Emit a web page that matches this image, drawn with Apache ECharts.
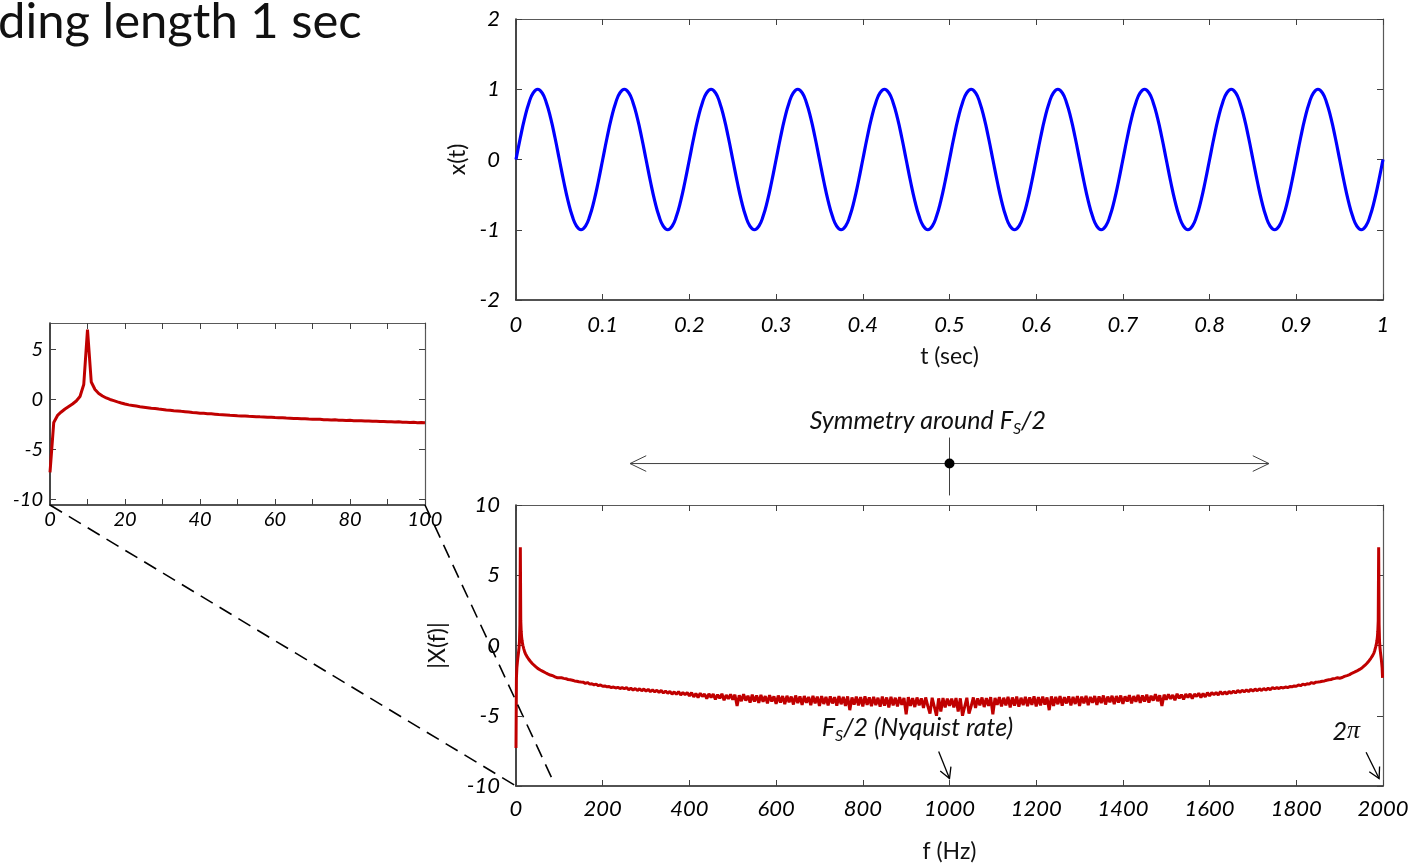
<!DOCTYPE html>
<html><head><meta charset="utf-8">
<script src="https://cdn.jsdelivr.net/npm/echarts@6/dist/echarts.min.js"></script>
<style>html,body{margin:0;padding:0;background:#fff;}#c{width:1416px;height:868px;}</style>
</head><body><div id="c"></div>
<script>
// ---- DATA ----
// x(t) sampled every 0.005 s, t = 0 .. 1
const signalStep = 0.005;
const signalValues = [
 0,0.309,0.588,0.809,0.951,1,0.951,0.809,0.588,0.309,0,-0.309,-0.588,-0.809,-0.951,-1,-0.951,-0.809,-0.588,-0.309,
 0,0.309,0.588,0.809,0.951,1,0.951,0.809,0.588,0.309,0,-0.309,-0.588,-0.809,-0.951,-1,-0.951,-0.809,-0.588,-0.309,
 0,0.309,0.588,0.809,0.951,1,0.951,0.809,0.588,0.309,0,-0.309,-0.588,-0.809,-0.951,-1,-0.951,-0.809,-0.588,-0.309,
 0,0.309,0.588,0.809,0.951,1,0.951,0.809,0.588,0.309,0,-0.309,-0.588,-0.809,-0.951,-1,-0.951,-0.809,-0.588,-0.309,
 0,0.309,0.588,0.809,0.951,1,0.951,0.809,0.588,0.309,0,-0.309,-0.588,-0.809,-0.951,-1,-0.951,-0.809,-0.588,-0.309,
 0,0.309,0.588,0.809,0.951,1,0.951,0.809,0.588,0.309,0,-0.309,-0.588,-0.809,-0.951,-1,-0.951,-0.809,-0.588,-0.309,
 0,0.309,0.588,0.809,0.951,1,0.951,0.809,0.588,0.309,0,-0.309,-0.588,-0.809,-0.951,-1,-0.951,-0.809,-0.588,-0.309,
 0,0.309,0.588,0.809,0.951,1,0.951,0.809,0.588,0.309,0,-0.309,-0.588,-0.809,-0.951,-1,-0.951,-0.809,-0.588,-0.309,
 0,0.309,0.588,0.809,0.951,1,0.951,0.809,0.588,0.309,0,-0.309,-0.588,-0.809,-0.951,-1,-0.951,-0.809,-0.588,-0.309,
 0,0.309,0.588,0.809,0.951,1,0.951,0.809,0.588,0.309,0,-0.309,-0.588,-0.809,-0.951,-1,-0.951,-0.809,-0.588,-0.309,
 0
];
// |X(f)| for f = 0 .. 100 Hz, 1 Hz steps (also the zoomed inset)
const spectrumLow = [
 -7.3,-2.3,-1.6,-1.25,-0.95,-0.7,-0.45,-0.15,0.3,1.5,
 7.0,1.75,1.0,0.6,0.35,0.15,0.0,-0.12,-0.24,-0.35,
 -0.45,-0.54,-0.6,-0.66,-0.72,-0.77,-0.82,-0.87,-0.91,-0.96,
 -1.0,-1.05,-1.08,-1.12,-1.15,-1.19,-1.22,-1.26,-1.3,-1.33,
 -1.37,-1.39,-1.42,-1.44,-1.47,-1.5,-1.52,-1.55,-1.58,-1.6,
 -1.63,-1.65,-1.66,-1.69,-1.7,-1.72,-1.74,-1.75,-1.78,-1.78,
 -1.81,-1.83,-1.84,-1.86,-1.87,-1.9,-1.9,-1.93,-1.94,-1.96,
 -1.97,-1.99,-1.98,-2.02,-2.02,-2.05,-2.04,-2.07,-2.07,-2.1,
 -2.09,-2.12,-2.13,-2.14,-2.16,-2.15,-2.19,-2.18,-2.21,-2.2,
 -2.23,-2.24,-2.26,-2.24,-2.28,-2.27,-2.3,-2.29,-2.32,-2.31,
 -2.33
];
// |X(f)| for f = 105 .. 1000 Hz, 5 Hz steps
const spectrumMidStart = 105, spectrumMidStep = 5;
const spectrumMid = [
 -2.30,-2.34,-2.36,-2.42,-2.44,-2.47,-2.52,-2.54,-2.58,-2.60,
 -2.61,-2.70,-2.64,-2.75,-2.72,-2.80,-2.75,-2.86,-2.81,-2.90,
 -2.88,-2.94,-2.92,-2.99,-2.96,-3.02,-2.98,-3.06,-3.00,-3.08,
 -3.00,-3.14,-3.04,-3.18,-3.06,-3.20,-3.08,-3.22,-3.10,-3.24,
 -3.12,-3.28,-3.16,-3.30,-3.18,-3.34,-3.20,-3.38,-3.24,-3.40,
 -3.26,-3.46,-3.30,-3.48,-3.28,-3.52,-3.34,-3.50,-3.36,-3.58,
 -3.36,-3.66,-3.42,-3.70,-3.40,-3.62,-3.46,-3.78,-3.44,-3.70,
 -3.46,-3.84,-3.50,-3.76,-3.44,-3.90,-3.52,-3.80,-3.48,-3.86,
 -3.50,-4.30,-3.54,-3.96,-3.46,-3.92,-3.58,-4.06,-3.50,-3.98,
 -3.56,-4.08,-3.52,-4.00,-3.60,-4.12,-3.54,-3.98,-3.62,-4.16,
 -3.56,-4.06,-3.60,-4.18,-3.58,-4.04,-3.64,-4.20,-3.56,-4.10,
 -3.62,-4.22,-3.60,-4.08,-3.66,-4.24,-3.58,-4.12,-3.64,-4.30,
 -3.60,-4.16,-3.66,-4.26,-3.62,-4.12,-3.68,-4.28,-3.60,-4.18,
 -3.66,-4.30,-3.62,-4.60,-3.70,-4.20,-3.64,-4.26,-3.68,-4.34,
 -3.62,-4.22,-3.70,-4.32,-3.66,-4.24,-3.72,-4.36,-3.64,-4.28,
 -3.70,-4.40,-3.66,-4.26,-3.72,-4.34,-3.68,-4.22,-3.74,-4.90,
 -3.68,-4.30,-3.74,-4.38,-3.70,-4.26,-3.76,-4.44,-3.70,-4.32,
 -4.85,-3.72,-4.36,-5.00,-3.76,-4.70,-3.74,-4.40,-3.78,-4.30
];
const samplingRate = 2000;   // Hz; spectrum mirrors around samplingRate/2
const insetYMin = -10.57, insetYMax = 7.66;
const insetYTicks = [-10, -5, 0, 5];

// ---- BUILD SERIES DATA ----
const signalData = signalValues.map((v, i) => [+(i * signalStep).toFixed(4), v]);
const half = [];
spectrumLow.forEach((v, f) => half.push([f, v]));
spectrumMid.forEach((v, j) => half.push([spectrumMidStart + j * spectrumMidStep, v]));
const fN = samplingRate / 2;
const mirrored = half.filter(p => p[0] > 0 && p[0] < fN).map(p => [samplingRate - p[0], p[1]]);
const spectrumData = half.concat(mirrored).sort((a, b) => a[0] - b[0]);
const insetData = spectrumLow.map((v, f) => [f, v]);

// ---- CHART ----
const FONT = 'Lato, "Open Sans", "DejaVu Sans", sans-serif';
const chart = echarts.init(document.getElementById('c'), null, {renderer: 'canvas'});
const plain = v => String(+(+v).toFixed(2));

function axis(gridIndex, position, min, max, extra, mirror, labelOpts) {
  const a = {
    type: 'value', gridIndex, position, min, max,
    splitLine: {show: false},
    axisLine: {show: true, onZero: false, lineStyle: {color: mirror ? '#595959' : '#1a1a1a', width: mirror ? 1.2 : 1.6}},
    axisTick: {show: true, inside: true, length: 6, lineStyle: {color: '#404040', width: 1}},
    axisLabel: Object.assign({show: !mirror, fontFamily: FONT, fontStyle: 'italic', fontSize: 22, color: '#000', formatter: plain}, labelOpts || {})
  };
  return Object.assign(a, extra || {});
}
const nameStyle = {fontFamily: FONT, fontSize: 23, color: '#111'};

const option = {
  animation: false,
  backgroundColor: '#fff',
  grid: [
    {left: 516, top: 19, width: 867, height: 281},
    {left: 516, top: 505, width: 867, height: 281},
    {left: 50, top: 323, width: 375, height: 182}
  ],
  xAxis: [
    axis(0, 'bottom', 0, 1, {interval: 0.1, name: 't (sec)', nameLocation: 'middle', nameGap: 45, nameTextStyle: nameStyle}, false, {margin: 14}),
    axis(0, 'top', 0, 1, {interval: 0.1}, true),
    axis(1, 'bottom', 0, 2000, {interval: 200, name: 'f (Hz)', nameLocation: 'middle', nameGap: 54, nameTextStyle: nameStyle}, false, {margin: 12}),
    axis(1, 'top', 0, 2000, {interval: 200}, true),
    axis(2, 'bottom', 0, 100, {interval: 10}, false, {margin: 5, fontSize: 20, formatter: v => (v % 20 === 0 ? String(v) : '')}),
    axis(2, 'top', 0, 100, {interval: 10}, true)
  ],
  yAxis: [
    axis(0, 'left', -2, 2, {interval: 1, name: 'x(t)', nameLocation: 'middle', nameGap: 46, nameTextStyle: nameStyle}, false, {margin: 16}),
    axis(0, 'right', -2, 2, {interval: 1}, true),
    axis(1, 'left', -10, 10, {interval: 5, name: '|X(f)|', nameLocation: 'middle', nameGap: 67, nameTextStyle: nameStyle}, false, {margin: 16}),
    axis(1, 'right', -10, 10, {interval: 5}, true),
    axis(2, 'left', insetYMin, insetYMax, {}, false, {margin: 7, fontSize: 20, customValues: insetYTicks}),
    axis(2, 'right', insetYMin, insetYMax, {}, true)
  ],
  series: [
    {type: 'line', xAxisIndex: 0, yAxisIndex: 0, data: signalData, showSymbol: false, smooth: 0.5,
     lineStyle: {color: '#0000ff', width: 3.2}, itemStyle: {color: '#0000ff'}},
    {type: 'line', xAxisIndex: 2, yAxisIndex: 2, data: spectrumData, showSymbol: false,
     lineStyle: {color: '#c00000', width: 3}, itemStyle: {color: '#c00000'}},
    {type: 'line', xAxisIndex: 4, yAxisIndex: 4, data: insetData, showSymbol: false,
     lineStyle: {color: '#c00000', width: 3}, itemStyle: {color: '#c00000'}}
  ]
};
option.yAxis[4].axisTick.customValues = insetYTicks;
option.yAxis[5].axisTick.customValues = insetYTicks;
chart.setOption(option);

// ---- ANNOTATIONS ----
const px = (g, p) => chart.convertToPixel({xAxisIndex: 2 * g, yAxisIndex: 2 * g}, p);
function head(tip, from, len, ang, color, w) {
  const dx = from[0] - tip[0], dy = from[1] - tip[1], L = Math.hypot(dx, dy);
  const ux = dx / L, uy = dy / L;
  const r = a => [tip[0] + len * (ux * Math.cos(a) - uy * Math.sin(a)), tip[1] + len * (ux * Math.sin(a) + uy * Math.cos(a))];
  return {type: 'polyline', z: 100, silent: true, shape: {points: [r(ang), tip, r(-ang)]}, style: {stroke: color, fill: null, lineWidth: w}};
}
function line(a, b, style) {
  return {type: 'line', z: 100, silent: true, shape: {x1: a[0], y1: a[1], x2: b[0], y2: b[1]}, style: Object.assign({stroke: '#000', lineWidth: 1.2}, style)};
}
const italic = {fontFamily: FONT, fontStyle: 'italic', fill: '#111', color: '#111'};
const g = [];
g.push({type: 'text', z: 100, x: -2, y: 22, style: {text: 'ding length 1 sec', fontFamily: FONT, fontSize: 49, fill: '#111', align: 'left', verticalAlign: 'middle'}});
g.push(line(px(2, [0, insetYMin]), px(1, [0, -10]), {lineDash: [14, 8], lineWidth: 1.6}));
g.push(line(px(2, [100, insetYMin]), px(1, [85, -9.6]), {lineDash: [14, 8], lineWidth: 1.6}));
const yS = 12.95;
const L0 = px(1, [263, yS]), R0 = px(1, [1737, yS]), C0 = px(1, [1000, yS]);
g.push(line(L0, R0, {stroke: '#404040', lineWidth: 1}));
g.push(head(L0, R0, 18, 0.45, '#404040', 1));
g.push(head(R0, L0, 18, 0.45, '#404040', 1));
g.push(line(px(1, [1000, 14.8]), px(1, [1000, 10.68]), {stroke: '#404040', lineWidth: 1}));
g.push({type: 'circle', z: 101, silent: true, shape: {cx: C0[0], cy: C0[1], r: 5}, style: {fill: '#000'}});
const symPos = px(1, [950, 15.87]);
g.push({type: 'text', z: 100, x: symPos[0], y: symPos[1], style: {
  text: '{a|Symmetry around F}{s|S}{a|/2}', align: 'center', verticalAlign: 'middle',
  rich: {a: Object.assign({fontSize: 25, verticalAlign: 'bottom', padding: [0, 0, 3, 0]}, italic),
         s: Object.assign({fontSize: 16, verticalAlign: 'bottom'}, italic)}}});
const nyPos = px(1, [926, -5.98]);
g.push({type: 'text', z: 100, x: nyPos[0], y: nyPos[1], style: {
  text: '{a|F}{s|S}{a|/2 (Nyquist rate)}', align: 'center', verticalAlign: 'middle',
  rich: {a: Object.assign({fontSize: 25, verticalAlign: 'bottom', padding: [0, 0, 3, 0]}, italic),
         s: Object.assign({fontSize: 16, verticalAlign: 'bottom'}, italic)}}});
const nyA = px(1, [975, -7.54]), nyB = px(1, [1000, -9.47]);
g.push(line(nyA, nyB, {lineWidth: 1.3}));
g.push(head(nyB, nyA, 12, 0.5, '#000', 1.3));
const piPos = px(1, [1915, -6.12]);
g.push({type: 'text', z: 100, x: piPos[0], y: piPos[1], style: {
  text: '{a|2}{p|π}', align: 'center', verticalAlign: 'middle',
  rich: {a: Object.assign({fontSize: 25}, italic), p: {fontSize: 26, fontStyle: 'italic', fontFamily: '"Liberation Serif", "DejaVu Serif", serif', fill: '#111', color: '#111'}}}});
const piA = px(1, [1961, -7.6]), piB = px(1, [1991, -9.47]);
g.push(line(piA, piB, {lineWidth: 1.3}));
g.push(head(piB, piA, 12, 0.5, '#000', 1.3));

chart.setOption({graphic: g});
</script>
</body></html>
